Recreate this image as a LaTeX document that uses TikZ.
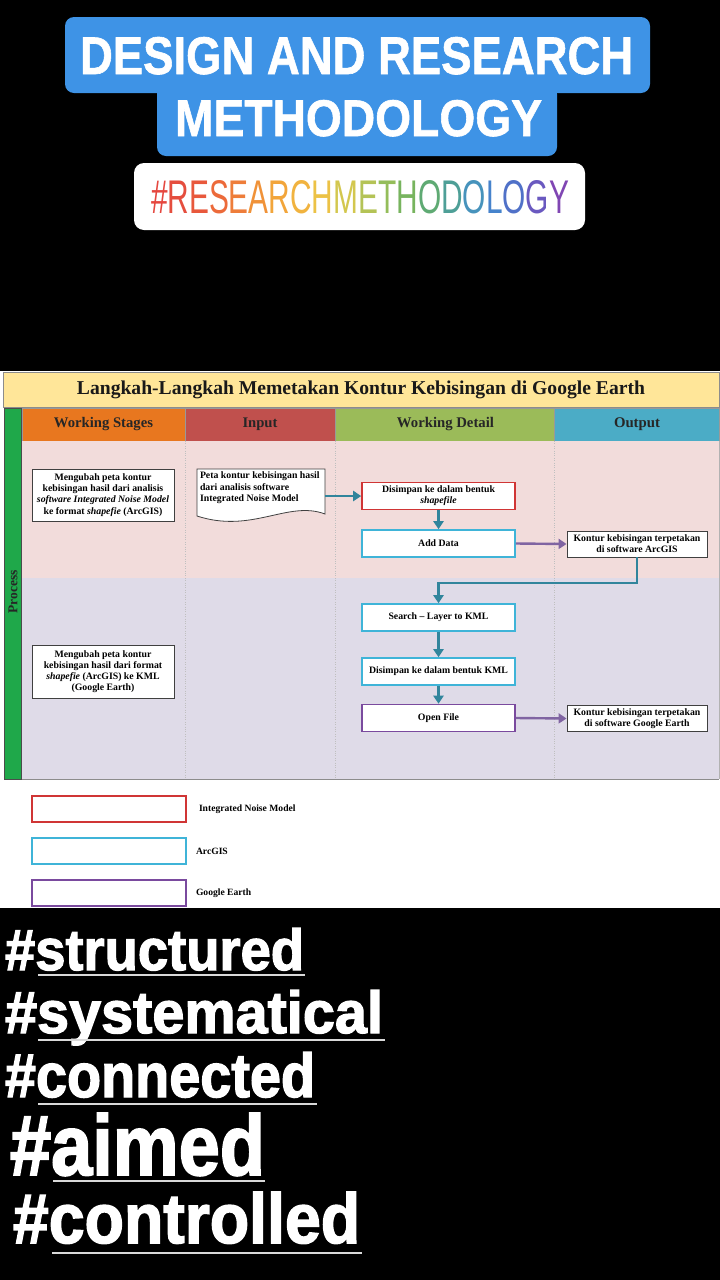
\documentclass[tikz,border=0pt]{standalone}
\usepackage{fontspec}
\usepackage{graphicx}
\setmainfont{Liberation Serif}
\newfontfamily\sansf{Liberation Sans}
\newfontfamily\heavy{Liberation Sans}[FakeBold=2.2]
\newfontfamily\semiheavy{Liberation Sans}[FakeBold=1.2]
\usetikzlibrary{arrows.meta}
\definecolor{igblue}{HTML}{3E93E6}
\definecolor{titleyellow}{HTML}{FFE699}
\definecolor{hdrorange}{HTML}{E8771F}
\definecolor{hdrred}{HTML}{C0504D}
\definecolor{hdrgreen}{HTML}{9BBB59}
\definecolor{hdrblue}{HTML}{4BACC6}
\definecolor{lanepink}{HTML}{F2DCDB}
\definecolor{lanelav}{HTML}{DFDBE8}
\definecolor{procgreen}{HTML}{1FA84A}
\definecolor{inmred}{HTML}{D03535}
\definecolor{arccyan}{HTML}{3FB4D8}
\definecolor{gepurple}{HTML}{7A4A9E}
\definecolor{teal}{HTML}{31859C}
\definecolor{arrpurple}{HTML}{8064A2}
\definecolor{c01}{HTML}{E5473F}\definecolor{c02}{HTML}{E54E3E}
\definecolor{c03}{HTML}{E8583C}\definecolor{c04}{HTML}{EC6A3A}
\definecolor{c05}{HTML}{EE7D3A}\definecolor{c06}{HTML}{F09238}
\definecolor{c07}{HTML}{F2A53A}\definecolor{c08}{HTML}{F1B33F}
\definecolor{c09}{HTML}{ECC246}\definecolor{c10}{HTML}{D3C74E}
\definecolor{c11}{HTML}{B4C356}\definecolor{c12}{HTML}{94BD5A}
\definecolor{c13}{HTML}{77B45E}\definecolor{c14}{HTML}{5FAA73}
\definecolor{c15}{HTML}{4E9F97}\definecolor{c16}{HTML}{4793BC}
\definecolor{c17}{HTML}{4683CC}\definecolor{c18}{HTML}{5071C8}
\definecolor{c19}{HTML}{6A59C0}\definecolor{c20}{HTML}{8046B3}
\begin{document}
\begin{tikzpicture}[x=1pt,y=-1pt,
  txt/.style={inner sep=0pt, outer sep=0pt},
  smallfont/.style={font=\fontsize{9.8}{11.2}\selectfont\bfseries},
  wsbox/.style={draw=black!75, fill=white, line width=0.8pt, align=center, smallfont,
     minimum width=142pt, inner sep=1pt},
  stepbox/.style={fill=white, line width=1.6pt, align=center, smallfont,
     minimum width=153pt, minimum height=27pt, inner sep=1pt},
  outbox/.style={draw=black!75, fill=white, line width=0.9pt, align=center, smallfont,
     minimum width=140pt, minimum height=26pt, inner sep=1pt},
  hdr/.style={txt, text=black!85, font=\bfseries},
  tealarrow/.style={draw=teal, line width=2.4pt, -{Triangle[length=8pt,width=10pt]}},
  purparrow/.style={draw=arrpurple, line width=2.4pt, -{Triangle[length=8pt,width=10pt]}},
  sep/.style={draw=black!25, line width=0.4pt, dotted},
  uline/.style={draw=white!85!black, line width=2.6pt},
  legtext/.style={txt, anchor=west, font=\fontsize{9.6}{11}\selectfont\bfseries},
  hashtag/.style={txt, anchor=base west, text=white, font=\heavy\bfseries}
]
\useasboundingbox (0,0) rectangle (720,1280);
\fill[black] (0,0) rectangle (720,1280);

% ---------- title ----------
\fill[igblue, rounded corners=9pt] (65,17) rectangle (650,93);
\fill[igblue, rounded corners=9pt] (157,85) rectangle (557,156);
\node[txt, anchor=base west, text=white] (title1) at (80,74)
  {\resizebox{553pt}{37pt}{\semiheavy\bfseries DESIGN AND RESEARCH}};
\node[txt, anchor=base west, text=white] (title2) at (175,136)
  {\resizebox{367pt}{36pt}{\semiheavy\bfseries METHODOLOGY}};
\fill[white, rounded corners=10pt] (134,163) rectangle (585,230);
\node[txt, anchor=base west] (tag) at (151,213)
  {\resizebox{418pt}{33pt}{\sansf\color{c01}\#\color{c02}R\color{c03}E\color{c04}S\color{c05}E\color{c06}A\color{c07}R\color{c08}C\color{c09}H\color{c10}M\color{c11}E\color{c12}T\color{c13}H\color{c14}O\color{c15}D\color{c16}O\color{c17}L\color{c18}O\color{c19}G\color{c20}Y}};

% ---------- diagram ----------
\fill[white] (0,371) rectangle (720,908);
\filldraw[fill=titleyellow, draw=black!45, line width=0.6pt] (3,372) rectangle (719,407);
\node[txt, text=black!90] (dtitle) at (361,390)
  {\resizebox{568pt}{!}{\bfseries Langkah-Langkah Memetakan Kontur Kebisingan di Google Earth}};

% header cells
\filldraw[fill=hdrorange, draw=black!40, line width=0.5pt] (22,408) rectangle (185,441);
\filldraw[fill=hdrred, draw=black!40, line width=0.5pt] (185,408) rectangle (335,441);
\filldraw[fill=hdrgreen, draw=black!40, line width=0.5pt] (335,408) rectangle (554,441);
\filldraw[fill=hdrblue, draw=black!40, line width=0.5pt] (554,408) rectangle (719,441);
\node[hdr] (h1) at (103.5,424) {\resizebox{99pt}{!}{Working Stages}};
\node[hdr] (h2) at (260,424) {\resizebox{35pt}{!}{Input}};
\node[hdr] (h3) at (445.5,424) {\resizebox{97pt}{!}{Working Detail}};
\node[hdr] (h4) at (637,424) {\resizebox{46pt}{!}{Output}};

% lanes
\fill[lanepink] (22,441) rectangle (719,578);
\fill[lanelav] (22,578) rectangle (719,779);
\draw[sep] (185,441) -- (185,779);
\draw[sep] (335,441) -- (335,779);
\draw[sep] (554,441) -- (554,779);
\draw[black!45, line width=0.8pt] (22,779) -- (719,779);
\draw[black!30, line width=0.5pt] (719,441) -- (719,779);

% process bar
\filldraw[fill=procgreen, draw=black!70, line width=0.6pt] (4,408) rectangle (21,779);
\node[txt, rotate=90, text=black!85, font=\fontsize{13.5}{15}\selectfont\bfseries] (proc) at (13,592) {Process};

% working stages
\node[wsbox, minimum height=52pt] (ws1) at (103,495)
  {Mengubah peta kontur\\kebisingan hasil dari analisis\\\textit{software Integrated Noise Model}\\ke format \textit{shapefie} (ArcGIS)};
\node[wsbox, minimum height=53pt] (ws2) at (103,671.5)
  {Mengubah peta kontur\\kebisingan hasil dari format\\\textit{shapefie} (ArcGIS) ke KML\\(Google Earth)};

% input document
\filldraw[fill=white, draw=black!75, line width=0.8pt]
  (197,469) -- (325,469) -- (325,514) .. controls (288,500) and (252,534) .. (197,516) -- cycle;
\node[txt, anchor=north west, align=left, smallfont] (inp) at (200,472)
  {Peta kontur kebisingan hasil\\dari analisis software\\Integrated Noise Model};
\coordinate (inpR) at (325,496);

% working detail
\node[stepbox, draw=inmred] (d1) at (438.5,496) {Disimpan ke dalam bentuk\\\textit{shapefile}};
\node[stepbox, draw=arccyan] (d2) at (438.5,543.5) {Add Data};
\node[stepbox, draw=arccyan] (d3) at (438.5,617.5) {Search -- Layer to KML};
\node[stepbox, draw=arccyan] (d4) at (438.5,671.5) {Disimpan ke dalam bentuk KML};
\node[stepbox, draw=gepurple] (d5) at (438.5,718) {Open File};

% outputs
\node[outbox] (o1) at (637,544) {Kontur kebisingan terpetakan\\di software ArcGIS};
\node[outbox] (o2) at (637,718.5) {Kontur kebisingan terpetakan\\di software Google Earth};

% connectors
\draw[tealarrow] (inpR) -- (d1.west);
\draw[tealarrow] (d1.south) -- (d2.north);
\draw[purparrow] (d2.east) -- (o1.west);
\coordinate (bend) at (637,583);
\draw[tealarrow] (o1.south) -- (bend) -| (d3.north);
\draw[tealarrow] (d3.south) -- (d4.north);
\draw[tealarrow] (d4.south) -- (d5.north);
\draw[purparrow] (d5.east) -- (o2.west);

% legend
\draw[inmred, line width=1.6pt] (32,796) rectangle (186,822);
\draw[arccyan, line width=1.6pt] (32,838) rectangle (186,864);
\draw[gepurple, line width=1.6pt] (32,880) rectangle (186,906);
\node[legtext] (l1) at (199,809) {Integrated Noise Model};
\node[legtext] (l2) at (196,851) {ArcGIS};
\node[legtext] (l3) at (196,893) {Google Earth};

% ---------- hashtags ----------
\node[hashtag] (ht1) at (5,970) {\resizebox{299pt}{42pt}{\#structured}};
\draw[uline] (38,975) -- (305,975);
\node[hashtag] (ht2) at (5,1033) {\resizebox{378pt}{43pt}{\#systematical}};
\draw[uline] (38,1040) -- (385,1040);
\node[hashtag] (ht3) at (5,1097) {\resizebox{310pt}{45pt}{\#connected}};
\draw[uline] (38,1104) -- (317,1104);
\node[hashtag] (ht4) at (10,1175) {\resizebox{255pt}{62pt}{\#aimed}};
\draw[uline] (53,1181) -- (265,1181);
\node[hashtag] (ht5) at (13,1243) {\resizebox{347pt}{51pt}{\#controlled}};
\draw[uline] (52,1253) -- (362,1253);
\end{tikzpicture}
\end{document}
